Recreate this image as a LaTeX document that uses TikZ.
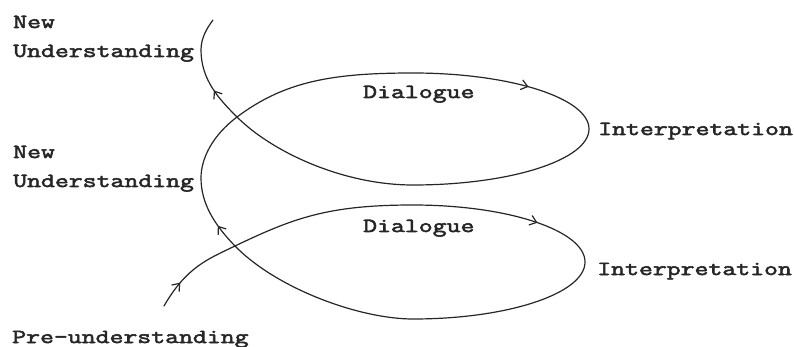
\documentclass[tikz,border=0pt]{standalone}
\usepackage{fontspec}
\newfontfamily\courfont[FakeStretch=1.35,FakeBold=2.8]{Latin Modern Mono}
\usetikzlibrary{arrows.meta,decorations.markings}
\tikzset{
  mybarb/.tip={Straight Barb[length=6.5pt,width=10pt]},
  lbl/.style={anchor=base west, inner sep=0pt, font=\courfont\fontsize{20}{24}\selectfont, text=black!85},
  spiral/.style={line width=1.2pt, black!85, line cap=round, line join=round},
  arrowat/.style={postaction={decorate},
    decoration={markings, mark=at position #1 with {\arrow[line width=1.2pt, black!85]{mybarb}}}}
}
\begin{document}
\begin{tikzpicture}[x=1pt,y=-1pt]
\useasboundingbox (0,0) rectangle (794,347);
% key points of the spiral
\coordinate (start) at (164,306);
\coordinate (xlow) at (235,246);
\coordinate (ltop) at (413,205);
\coordinate (lright) at (585,262);
\coordinate (lbot) at (413,319);
\coordinate (mleft) at (201,178);
\coordinate (xup) at (237,117);
\coordinate (utop) at (413,73);
\coordinate (uright) at (589,129);
\coordinate (ubot) at (413,185);
\coordinate (tleft) at (201,50);
\coordinate (finish) at (213,20);
% the spiral
\draw[spiral]
  (start) .. controls (186.5,267) and (208,259) .. (xlow)
  .. controls (293.5,218) and (328,205) .. (ltop)
  .. controls (508,205) and (585,230.5) .. (lright)
  .. controls (585,293.5) and (508,319) .. (lbot)
  .. controls (360,319) and (277,289) .. (xlow)
  .. controls (214,224.4) and (201,203) .. (mleft)
  .. controls (201,158) and (213,135) .. (xup)
  .. controls (285,81) and (333,73) .. (utop)
  .. controls (510.2,73) and (589,98.1) .. (uright)
  .. controls (589,159.9) and (510.2,185) .. (ubot)
  .. controls (343,185) and (272,152) .. (xup)
  .. controls (219.5,99.5) and (201,80) .. (tleft)
  .. controls (201,38) and (207,28) .. (finish);
% arrowheads along the spiral
\path[arrowat=0.30] (start) .. controls (186.5,267) and (208,259) .. (xlow);
\path[arrowat=0.66] (ltop) .. controls (508,205) and (585,230.5) .. (lright);
\path[arrowat=0.34] (xlow) .. controls (214,224.4) and (201,203) .. (mleft);
\path[arrowat=0.60] (utop) .. controls (510.2,73) and (589,98.1) .. (uright);
\path[arrowat=0.45] (xup) .. controls (219.5,99.5) and (201,80) .. (tleft);
% labels
\node[lbl] (nu1a) at (13,28) {New};
\node[lbl] (nu1b) at (13,57) {Understanding};
\node[lbl] (nu2a) at (13,158) {New};
\node[lbl] (nu2b) at (13,187) {Understanding};
\node[lbl] (pre) at (12,343) {Pre-understanding};
\node[lbl] (dia1) at (363,98) {Dialogue};
\node[lbl] (dia2) at (363,232) {Dialogue};
\node[lbl] (int1) at (598,135) {Interpretation};
\node[lbl] (int2) at (597,275) {Interpretation};
\end{tikzpicture}
\end{document}
